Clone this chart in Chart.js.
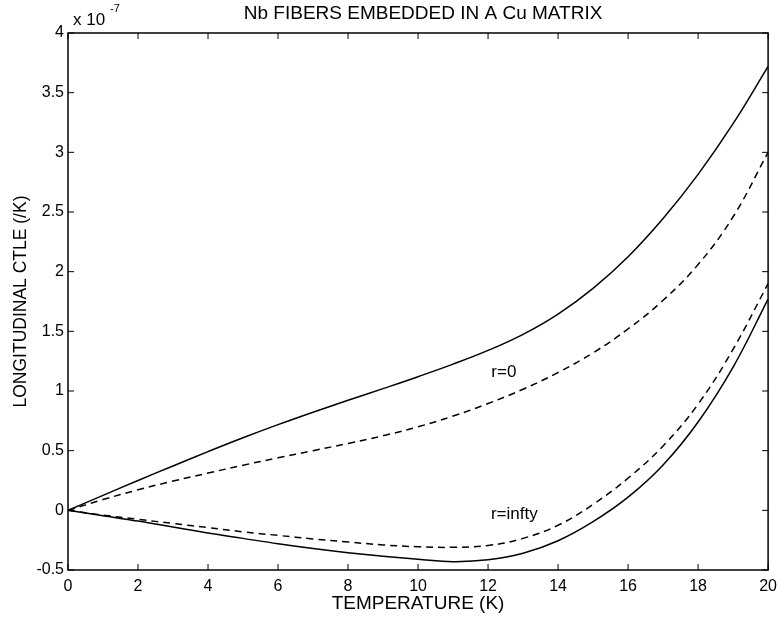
<!DOCTYPE html>
<html>
<head>
<meta charset="utf-8">
<script src="https://cdn.jsdelivr.net/npm/chart.js@4.4.1/dist/chart.umd.min.js"></script>
<style>
  html, body { margin: 0; padding: 0; background: #fff; }
</style>
</head>
<body>
<canvas id="ctle" width="784" height="622"></canvas>
<script>
// data (units of 1e-7 /K)
const temps = [0, 1, 2, 3, 4, 5, 6, 7, 8, 9, 10, 11, 12, 13, 14, 15, 16, 17, 18, 19, 20];
const r0Solid = [0, 0.125, 0.25, 0.372, 0.492, 0.608, 0.718, 0.822, 0.922, 1.02, 1.12, 1.225, 1.34, 1.475, 1.645, 1.86, 2.125, 2.445, 2.815, 3.24, 3.72];
const r0Dashed = [0, 0.09, 0.172, 0.245, 0.312, 0.378, 0.44, 0.5, 0.56, 0.625, 0.7, 0.79, 0.895, 1.015, 1.155, 1.32, 1.52, 1.76, 2.06, 2.46, 3.0];
const rInfSolid = [0, -0.045, -0.09, -0.14, -0.19, -0.235, -0.28, -0.32, -0.355, -0.385, -0.41, -0.43, -0.415, -0.36, -0.255, -0.095, 0.11, 0.38, 0.74, 1.2, 1.77];
const rInfDashed = [0, -0.04, -0.075, -0.11, -0.145, -0.18, -0.21, -0.24, -0.265, -0.29, -0.305, -0.31, -0.295, -0.235, -0.125, 0.05, 0.27, 0.54, 0.89, 1.35, 1.90];

const xTicks = [0, 2, 4, 6, 8, 10, 12, 14, 16, 18, 20];
const yTicks = [-0.5, 0, 0.5, 1, 1.5, 2, 2.5, 3, 3.5, 4];

const curveLabels = [
    { text: 'r=0', t: 12.45, v: 1.16 },
    { text: 'r=infty', t: 12.75, v: -0.03 }
];

const FONT = '"Liberation Sans", Arial, Helvetica, sans-serif';

function toPoints(ys) {
    return temps.map((t, i) => ({ x: t, y: ys[i] }));
}

function lineSet(ys, dashed) {
    return {
        data: toPoints(ys),
        borderColor: '#000',
        borderWidth: 1.5,
        borderDash: dashed ? [7, 5] : [],
        pointRadius: 0,
        fill: false,
        tension: 0.4
    };
}

// frame, inward ticks, title and curve labels (matlab look)
const matlabFrame = {
    id: 'matlabFrame',
    afterDraw(chart) {
        const { ctx, chartArea: a, scales: { x, y } } = chart;
        ctx.save();
        ctx.strokeStyle = '#000';
        ctx.lineWidth = 1.5;
        ctx.strokeRect(a.left, a.top, a.width, a.height);

        ctx.lineWidth = 1;
        ctx.beginPath();
        xTicks.forEach(v => {
            const px = x.getPixelForValue(v);
            ctx.moveTo(px, a.bottom); ctx.lineTo(px, a.bottom - 6);
            ctx.moveTo(px, a.top); ctx.lineTo(px, a.top + 6);
        });
        yTicks.forEach(v => {
            const py = y.getPixelForValue(v);
            ctx.moveTo(a.left, py); ctx.lineTo(a.left + 6, py);
            ctx.moveTo(a.right, py); ctx.lineTo(a.right - 6, py);
        });
        ctx.stroke();

        ctx.fillStyle = '#000';
        ctx.textBaseline = 'middle';
        ctx.textAlign = 'center';
        ctx.font = '19px ' + FONT;
        ctx.fillText('Nb FIBERS EMBEDDED IN A Cu MATRIX', (a.left + a.right) / 2 + 5, 14);

        // exponent note
        ctx.textAlign = 'left';
        ctx.textBaseline = 'alphabetic';
        ctx.font = '17px ' + FONT;
        ctx.fillText('x 10', a.left + 5, 25);
        ctx.font = '11px ' + FONT;
        ctx.fillText('-7', a.left + 42, 12);

        ctx.font = '17px ' + FONT;
        ctx.textAlign = 'center';
        ctx.textBaseline = 'middle';
        curveLabels.forEach(l => {
            ctx.fillText(l.text, x.getPixelForValue(l.t), y.getPixelForValue(l.v));
        });
        ctx.restore();
    }
};

new Chart(document.getElementById('ctle'), {
    type: 'line',
    data: {
        datasets: [
            lineSet(r0Solid, false),
            lineSet(r0Dashed, true),
            lineSet(rInfSolid, false),
            lineSet(rInfDashed, true)
        ]
    },
    options: {
        responsive: false,
        animation: false,
        layout: { padding: { top: 33, right: 7, left: 0, bottom: 0 } },
        plugins: {
            legend: { display: false },
            tooltip: { enabled: false }
        },
        scales: {
            x: {
                type: 'linear',
                min: 0,
                max: 20,
                afterBuildTicks: s => { s.ticks = xTicks.map(v => ({ value: v })); },
                afterFit: s => { s.height = 52; },
                grid: { display: false, drawTicks: false },
                border: { display: false },
                ticks: { color: '#000', padding: 7, maxRotation: 0, font: { family: FONT, size: 16 } },
                title: {
                    display: true,
                    text: 'TEMPERATURE (K)',
                    color: '#000',
                    padding: { top: 0, bottom: 7 },
                    font: { family: FONT, size: 19 }
                }
            },
            y: {
                type: 'linear',
                min: -0.5,
                max: 4,
                afterBuildTicks: s => { s.ticks = yTicks.map(v => ({ value: v })); },
                afterFit: s => { s.width = 68; },
                grid: { display: false, drawTicks: false },
                border: { display: false },
                ticks: {
                    color: '#000',
                    padding: 4,
                    font: { family: FONT, size: 16 },
                    callback: v => String(Math.round(v * 10) / 10)
                },
                title: {
                    display: true,
                    text: 'LONGITUDINAL CTLE (/K)',
                    color: '#000',
                    padding: { top: 11, bottom: 0 },
                    font: { family: FONT, size: 17.5 }
                }
            }
        }
    },
    plugins: [matlabFrame]
});
</script>
</body>
</html>
